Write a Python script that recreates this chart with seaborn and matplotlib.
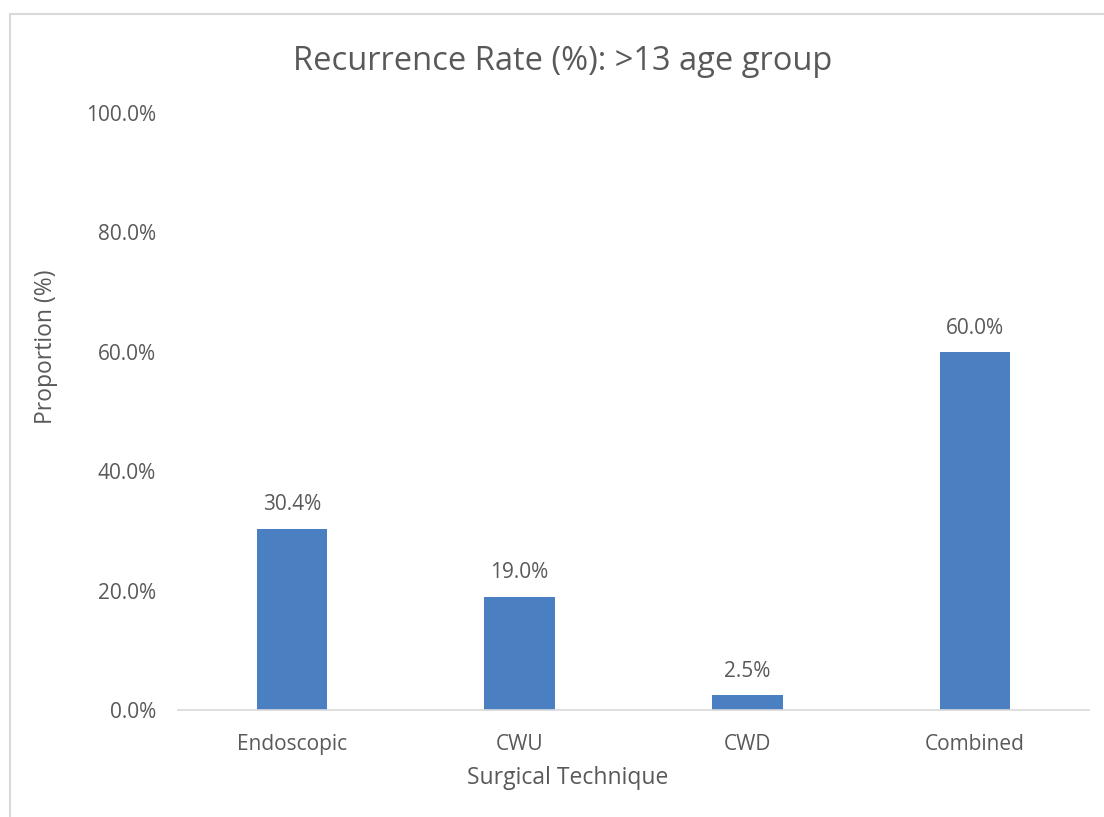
"""Recurrence rate by surgical technique for the >13 age group."""

import matplotlib.pyplot as plt
import pandas as pd
import seaborn as sns
from matplotlib.lines import Line2D
from matplotlib.ticker import FuncFormatter

techniques = ["Endoscopic", "CWU", "CWD", "Combined"]
recurrence = [30.4, 19.0, 2.5, 60.0]
y_ticks = [0, 20, 40, 60, 80, 100]

BAR_COLOR = "#4a7fc1"
TEXT_COLOR = "#595959"
FRAME_COLOR = "#d9d9d9"
W, H = 1104, 817

sns.set_theme(style="white")
plt.rcParams["font.family"] = ["Open Sans", "DejaVu Sans"]

df = pd.DataFrame({"Technique": techniques, "Rate": recurrence})

fig = plt.figure(figsize=(W / 100, H / 100), dpi=100)
ax = fig.add_axes([178 / W, 1 - 710 / H, (1089 - 178) / W, (710 - 113) / H])

sns.barplot(data=df, x="Technique", y="Rate", color=BAR_COLOR, width=0.31,
            saturation=1, linewidth=0, ax=ax)

for patch, val in zip(ax.patches, recurrence):
    ax.text(patch.get_x() + patch.get_width() / 2, val + 2.2, f"{val:.1f}%",
            ha="center", va="bottom", fontsize=15, color=TEXT_COLOR)

ax.set_ylim(0, 100)
ax.set_xlim(-0.5, len(techniques) - 0.5)
ax.set_yticks(y_ticks)
ax.yaxis.set_major_formatter(FuncFormatter(lambda v, _: f"{v:.1f}%"))
ax.tick_params(axis="both", length=0, labelsize=15, colors=TEXT_COLOR)
ax.tick_params(axis="y", pad=16)
ax.tick_params(axis="x", pad=17)

for side in ["top", "right", "left"]:
    ax.spines[side].set_visible(False)
ax.spines["bottom"].set_color(FRAME_COLOR)
ax.spines["bottom"].set_linewidth(1.2)

ax.set_xlabel("")
ax.set_ylabel("")
fig.text(568 / W, 1 - 778 / H, "Surgical Technique", fontsize=16.5,
         color=TEXT_COLOR, ha="center", va="center")
fig.text(46 / W, 1 - 347 / H, "Proportion (%)", fontsize=16.5, rotation=90,
         color=TEXT_COLOR, ha="center", va="center")
fig.text(563 / W, 1 - 62 / H, "Recurrence Rate (%): >13 age group",
         fontsize=23.5, color=TEXT_COLOR, ha="center", va="center")

# chart frame (cut off at the right and bottom of the image)
fig.add_artist(Line2D([10 / W, 10 / W], [0, 1 - 14 / H],
                      color=FRAME_COLOR, lw=1.5, transform=fig.transFigure))
fig.add_artist(Line2D([10 / W, 1], [1 - 14 / H, 1 - 14 / H],
                      color=FRAME_COLOR, lw=1.5, transform=fig.transFigure))

fig.savefig("out.png", dpi=100, facecolor="white")
